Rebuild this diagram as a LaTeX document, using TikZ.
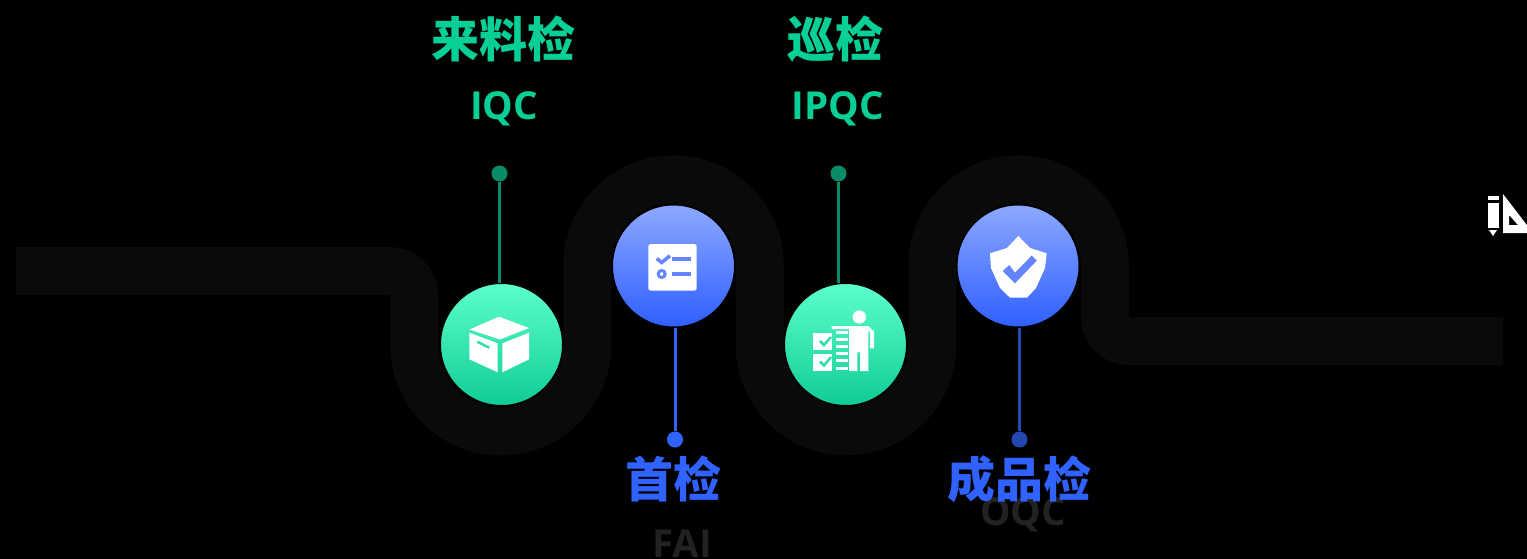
\documentclass[tikz,border=0pt]{standalone}
\usepackage{fontspec}
\setmainfont{Open Sans}
\newfontfamily\cjk{Noto Sans CJK SC}
\usetikzlibrary{calc,positioning}

\definecolor{ribbon}{HTML}{0A0A0A}
\definecolor{tealtext}{HTML}{07CF96}
\definecolor{bluetext}{HTML}{2F62FF}
\definecolor{greytext}{HTML}{222222}
\definecolor{tealdim}{HTML}{0A8A66}
\definecolor{bluedim}{HTML}{2548B0}
\definecolor{iconblue}{HTML}{6485FF}
\definecolor{icongreen}{HTML}{2DE0AA}
\definecolor{tealtop}{HTML}{5CFFCB}
\definecolor{tealbottom}{HTML}{10CC95}
\definecolor{bluetop}{HTML}{8CA8FF}
\definecolor{bluebottom}{HTML}{2F5FFF}

\tikzset{
  ball/.style={circle,draw=black,line width=1pt,minimum size=122pt,inner sep=0pt},
  tealball/.style={ball,top color=tealtop,bottom color=tealbottom},
  blueball/.style={ball,top color=bluetop,bottom color=bluebottom},
  pin/.style={circle,minimum size=16pt,inner sep=0pt},
  cntitle/.style={inner sep=0pt,font=\cjk\bfseries\fontsize{48}{48}\selectfont},
  entitle/.style={inner sep=0pt,font=\bfseries\fontsize{38.5}{38.5}\selectfont},
}

\begin{document}
\begin{tikzpicture}[x=1pt,y=-1pt]
   \useasboundingbox (0,0) rectangle (1527,559);
   \clip (0,0) rectangle (1527,559);
   \fill[black] (0,0) rectangle (1527,559);

   %road
   \draw[ribbon,line width=48pt] (16,271) -- (390,271)
     arc[start angle=270,end angle=360,radius=24] -- (414.25,345)
     arc[start angle=180,end angle=0,radius=86.5] -- (587.25,265.5)
     arc[start angle=180,end angle=360,radius=86.25] -- (759.75,345)
     arc[start angle=180,end angle=0,radius=86.25] -- (932.25,265.5)
     arc[start angle=180,end angle=360,radius=86.25] -- (1104.75,317)
     arc[start angle=180,end angle=90,radius=24] -- (1503,341);

   %stations
   \node[tealball] (iqc) at (501.5,344.5) {};
   \node[blueball] (fai) at (673.5,266) {};
   \node[tealball] (ipqc) at (845.5,344.5) {};
   \node[blueball] (oqc) at (1018,266) {};

   %pins
   \node[pin,fill=tealdim] (iqcpin) at (499.5,173.5) {};
   \node[pin,fill=bluetext] (faipin) at (675,439.5) {};
   \node[pin,fill=tealdim] (ipqcpin) at (838.5,173.5) {};
   \node[pin,fill=bluedim] (oqcpin) at (1019.5,439.5) {};

  \path[line width=3pt]
    (iqcpin) edge [tealdim] (iqcpin |- iqc.north)
    (ipqcpin) edge [tealdim] (ipqcpin |- ipqc.north)
    (faipin) edge [bluetext] (faipin |- fai.south)
    (oqcpin) edge [bluedim] (oqcpin |- oqc.south);

   %labels
   \node[entitle,text=greytext] (faien) at (682,543.5) {FAI};
   \node[entitle,text=greytext] (oqcen) at (1023,515) {OQC};
   \node[cntitle,text=tealtext] (iqccn) at (503,39) {来料检};
   \node[entitle,text=tealtext] (iqcen) at (504,109) {IQC};
   \node[cntitle,text=tealtext] (ipqccn) at (835,39) {巡检};
   \node[entitle,text=tealtext] (ipqcen) at (838,109) {IPQC};
   \node[cntitle,text=bluetext] (faicn) at (673,479) {首检};
   \node[cntitle,text=bluetext] (oqccn) at (1019,479) {成品检};

   %box icon
   \fill[white] (499,316.7) -- (529,328) -- (500,339.5) -- (469.5,329.5) -- cycle;
   \fill[white] (469.3,332.7) -- (497.7,343.3) -- (497.7,372.3) -- (469.3,359.3) -- cycle;
   \fill[white] (502.3,343.3) -- (529,332.7) -- (529,359.3) -- (502.3,372.3) -- cycle;
   \draw[line width=2.5pt,icongreen] (477.3,341.7) -- (489.3,347.7);

   %list icon
   \fill[white,rounded corners=2.5pt] (648.3,244) rectangle (696.7,290.7);
   \draw[iconblue,line width=3.5pt] (656.7,258.5) -- (661.7,262.5) -- (670,255.7);
   \draw[iconblue,line width=3.5pt] (671.7,259) -- (690.7,259);
   \draw[iconblue,line width=3pt] (661.7,274) circle (3.5);
   \draw[iconblue,line width=3.5pt] (671.7,274) -- (690.7,274);

   %inspector icon
   \fill[white] (859.3,317) circle (6.7);
   \fill[white] (831.7,326) -- (868.3,326) -- (874,331.7) -- (874,348.3) -- (870,348.3)
     -- (870,331.7) -- (868.3,331.7) -- (868.3,371) -- (860,371) -- (860,352.3)
     -- (857.3,352.3) -- (857.3,371) -- (849,371) -- (849,329) -- (831.7,329) -- cycle;
   \foreach \y in {331,338,345,352,359,367}
     \fill[white] (836,\y) rectangle (847.7,\y+3);
   \fill[white] (813.3,332.7) rectangle (831.7,350);
   \fill[white] (813.3,354) rectangle (831.7,371);
   \draw[icongreen,line width=2.5pt] (820,341) -- (824,345) -- (831,337);
   \draw[icongreen,line width=2.5pt] (820,361.5) -- (824,365.5) -- (831,357);

   %shield icon
   \fill[white] (1018.3,236) -- (1030,248) -- (1046.7,253.3) -- (1045,268) -- (1036,288)
     -- (1027,297.7) -- (1010,297.7) -- (1000,288) -- (991,268) -- (990,253.3) -- (1007,248) -- cycle;
   \fill[iconblue] (1009.3,265) -- (1002.7,271) -- (1015,283.3) -- (1036.7,260.7)
     -- (1031.7,255.7) -- (1015,272.7) -- cycle;

   %corner icon
   \fill[white] (1488,196) rectangle (1499,200);
   \fill[white] (1488,203) rectangle (1499,228);
   \fill[white] (1489,230) -- (1497,230) -- (1493,236) -- cycle;
   \fill[white,even odd rule] (1503,194) -- (1533,233) -- (1503,233) -- cycle
     (1509,215) -- (1509,225) -- (1518,225) -- cycle;
  \end{tikzpicture}
\end{document}
